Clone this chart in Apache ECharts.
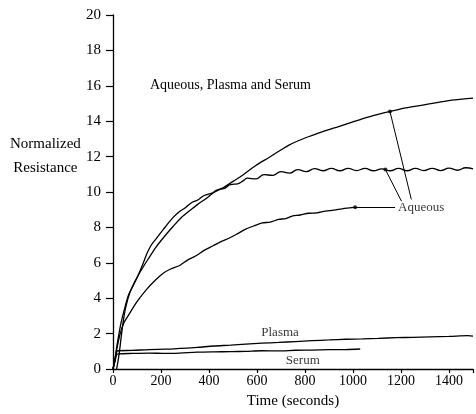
<!DOCTYPE html>
<html>
<head>
<meta charset="utf-8">
<script src="https://cdn.jsdelivr.net/npm/echarts@6/dist/echarts.min.js"></script>
<style>html,body{margin:0;padding:0;background:#fff;}#c{width:476px;height:414px;}</style>
</head>
<body>
<div id="c"></div>
<script>
// ---- data ----
var xTicks = [0, 200, 400, 600, 800, 1000, 1200, 1400];
var yTicks = [0, 2, 4, 6, 8, 10, 12, 14, 16, 18, 20];

var aqueousA_t = [0, 8, 15, 25, 35, 50, 65, 84, 105, 125, 146, 180, 215, 250, 284, 320, 353, 390, 422, 460, 500, 540, 595, 650, 691, 733, 800, 871, 940, 1009, 1080, 1154, 1220, 1285, 1350, 1423, 1500];
var aqueousA_v = [0, 0.5, 1.2, 2.0, 2.7, 3.5, 4.2, 4.7, 5.3, 5.75, 6.2, 6.9, 7.5, 8.05, 8.55, 8.95, 9.3, 9.65, 9.99, 10.25, 10.6, 10.95, 11.5, 11.95, 12.3, 12.65, 13.05, 13.4, 13.7, 14.0, 14.3, 14.55, 14.75, 14.9, 15.05, 15.2, 15.3];

var aqueousB_t = [15, 25, 35, 45, 55, 70, 84, 105, 125, 153, 185, 215, 240, 271, 300, 330, 353, 380, 409, 435, 464, 490, 519, 545, 560, 595, 630, 665, 700, 735, 770, 805, 840, 875, 910, 945, 980, 1015, 1050, 1085, 1120, 1155, 1190, 1225, 1260, 1295, 1330, 1365, 1400, 1435, 1470, 1500];
var aqueousB_v = [0, 0.8, 1.9, 2.9, 3.6, 4.3, 4.75, 5.3, 5.95, 6.85, 7.45, 7.98, 8.4, 8.83, 9.1, 9.42, 9.55, 9.8, 9.92, 10.12, 10.2, 10.42, 10.46, 10.66, 10.78, 10.74, 10.98, 10.94, 11.15, 11.07, 11.26, 11.15, 11.32, 11.2, 11.33, 11.2, 11.33, 11.21, 11.33, 11.2, 11.31, 11.2, 11.33, 11.2, 11.33, 11.21, 11.34, 11.21, 11.35, 11.23, 11.37, 11.3];

var aqueousC_t = [0, 10, 20, 30, 45, 63, 100, 140, 175, 208, 240, 278, 310, 346, 380, 415, 450, 485, 520, 553, 590, 622, 655, 690, 720, 746, 780, 815, 850, 885, 920, 955, 985, 1009];
var aqueousC_v = [0, 0.7, 1.4, 2.0, 2.6, 3.0, 3.8, 4.5, 5.0, 5.4, 5.65, 5.85, 6.15, 6.4, 6.7, 6.95, 7.2, 7.4, 7.65, 7.9, 8.1, 8.25, 8.3, 8.45, 8.5, 8.64, 8.7, 8.8, 8.82, 8.92, 8.97, 9.05, 9.1, 9.14];

var plasma_t = [0, 8, 15, 21, 80, 150, 220, 277, 350, 420, 490, 553, 620, 690, 760, 829, 900, 970, 1040, 1105, 1180, 1250, 1320, 1400, 1478, 1500];
var plasma_v = [0, 0.5, 0.95, 1.03, 1.05, 1.1, 1.12, 1.16, 1.22, 1.3, 1.35, 1.41, 1.46, 1.5, 1.55, 1.6, 1.64, 1.68, 1.7, 1.73, 1.77, 1.79, 1.82, 1.84, 1.88, 1.86];

var serum_t = [0, 8, 15, 22, 80, 150, 220, 277, 350, 420, 490, 553, 620, 690, 760, 830, 900, 970, 1030];
var serum_v = [0, 0.4, 0.8, 0.85, 0.88, 0.9, 0.88, 0.9, 0.95, 0.97, 0.98, 1.0, 1.03, 1.02, 1.06, 1.07, 1.09, 1.1, 1.13];

// annotation anchors (data coordinates)
var leaderLines = [
  [[1154, 14.55], [1243, 9.58]],
  [[1135, 11.27], [1202, 9.48]],
  [[1009, 9.14], [1175, 9.14]]
];
var leaderDots = [[1154, 14.55], [1135, 11.27], [1009, 9.14]];
var curveLabels = [
  {name: 'Aqueous', value: [1188, 9.14], align: 'left'},
  {name: 'Plasma', value: [696, 2.08], align: 'center'},
  {name: 'Serum', value: [791, 0.45], align: 'center'}
];
var titleText = 'Aqueous, Plasma and Serum';
var yName = ['Normalized', 'Resistance'];
var xName = 'Time (seconds)';

function zip(t, v) { return t.map(function (x, i) { return [x, v[i]]; }); }

var FONT = '"Liberation Serif", "DejaVu Serif", serif';
var lineStyle = {color: '#000', width: 1.3};

function curve(name, t, v, smooth) {
  return {
    name: name, type: 'line', data: zip(t, v), showSymbol: false, symbol: 'none',
    smooth: smooth, lineStyle: lineStyle, silent: true, z: 3
  };
}

var chart = echarts.init(document.getElementById('c'), null, {renderer: 'canvas'});
chart.setOption({
  animation: false,
  backgroundColor: '#fff',
  grid: {left: 113, right: 2, top: 15, bottom: 44, containLabel: false},
  xAxis: {
    type: 'value', min: 0, max: 1500, interval: 200,
    name: xName, nameLocation: 'middle', nameGap: 25,
    nameTextStyle: {fontFamily: FONT, fontSize: 15, color: '#000'},
    axisLine: {lineStyle: {color: '#000', width: 1.3}},
    axisTick: {show: true, inside: false, length: 4, lineStyle: {color: '#000', width: 1.2}},
    axisLabel: {fontFamily: FONT, fontSize: 14, color: '#000', margin: 5,
      formatter: function (v) { return xTicks.indexOf(v) >= 0 ? String(v) : ''; }},
    splitLine: {show: false}
  },
  yAxis: {
    type: 'value', min: 0, max: 20, interval: 2,
    axisLine: {show: true, lineStyle: {color: '#000', width: 1.3}},
    axisTick: {show: true, inside: false, length: 7, lineStyle: {color: '#000', width: 1.2}},
    axisLabel: {fontFamily: FONT, fontSize: 15, color: '#000', margin: 12,
      formatter: function (v) { return yTicks.indexOf(v) >= 0 ? String(v) : ''; }},
    splitLine: {show: false}
  },
  graphic: [
    {type: 'text', left: 150, top: 78, style: {text: titleText, font: '14px ' + FONT, fill: '#000'}},
    {type: 'text', left: 10, top: 132, style: {text: yName.join('\n'), font: '15px ' + FONT, fill: '#000', textAlign: 'center', lineHeight: 24, x: 37}}
  ],
  series: [
    curve('Aqueous A', aqueousA_t, aqueousA_v, 0.3),
    curve('Aqueous B', aqueousB_t, aqueousB_v, 0.5),
    curve('Aqueous C', aqueousC_t, aqueousC_v, 0.3),
    curve('Plasma', plasma_t, plasma_v, 0.3),
    curve('Serum', serum_t, serum_v, 0.3),
    {
      type: 'line', data: [], silent: true,
      markLine: {
        silent: true, symbol: ['none', 'none'], animation: false,
        label: {show: false},
        lineStyle: {color: '#000', width: 1, type: 'solid'},
        data: leaderLines.map(function (p) { return [{coord: p[0]}, {coord: p[1]}]; })
      }
    },
    {
      type: 'scatter', data: leaderDots, symbol: 'circle', symbolSize: 4,
      itemStyle: {color: '#000'}, silent: true, z: 4
    },
    {
      type: 'scatter', symbolSize: 0, silent: true,
      data: curveLabels.map(function (d) {
        return {name: d.name, value: d.value,
          label: {show: true, position: 'inside', formatter: '{b}', align: d.align, verticalAlign: 'middle',
            fontFamily: FONT, fontSize: 13, color: '#000'}};
      })
    }
  ]
});
</script>
</body>
</html>
